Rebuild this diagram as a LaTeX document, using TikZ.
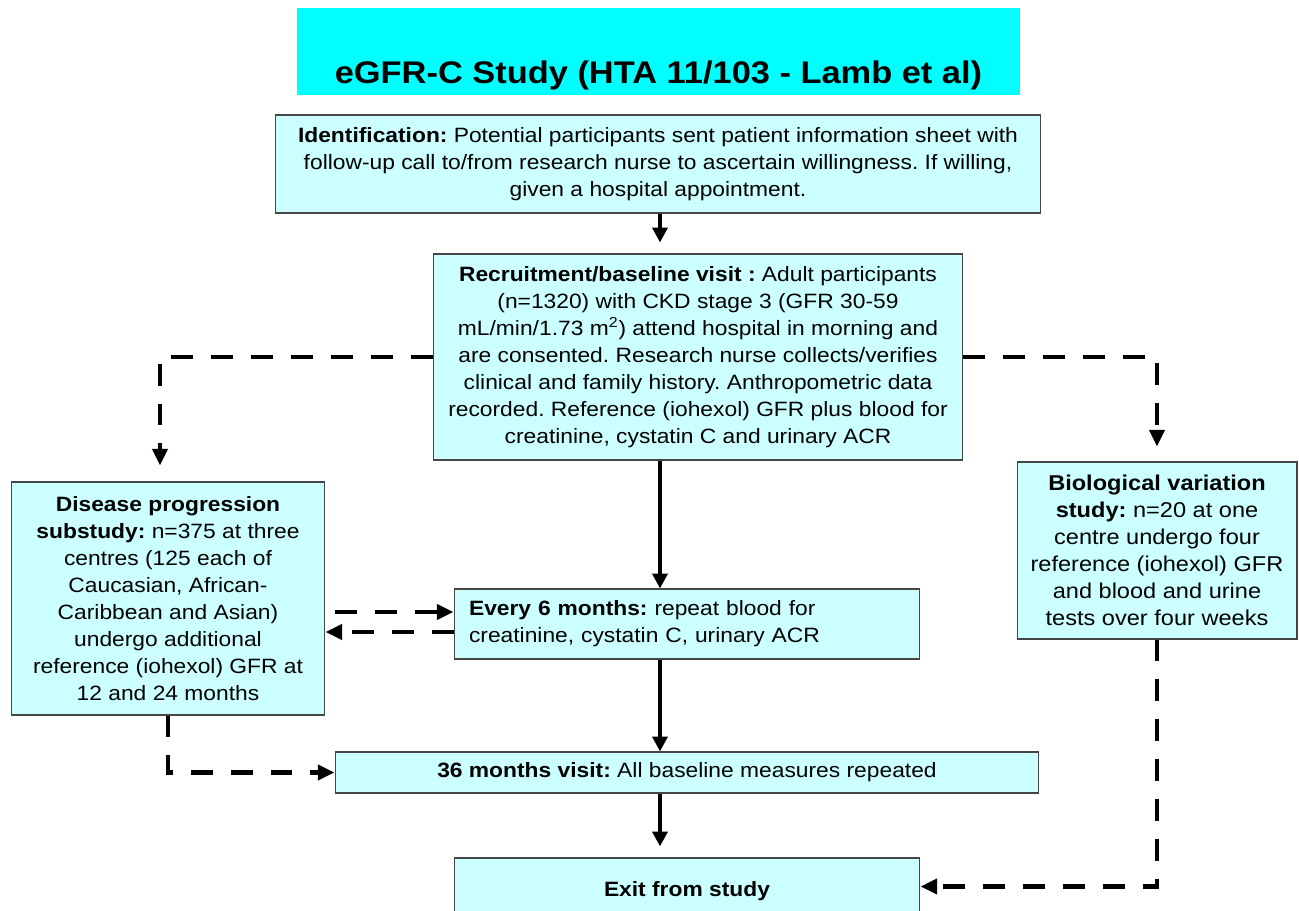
\documentclass[tikz,border=0pt]{standalone}
\usepackage{fontspec}
\setmainfont{Liberation Sans}[FakeStretch=1.1]
\usetikzlibrary{arrows.meta, calc}
\definecolor{titlecyan}{RGB}{0,255,255}
\definecolor{boxcyan}{RGB}{204,255,255}
\definecolor{boxedge}{RGB}{70,70,70}
\frenchspacing

\begin{document}
\begin{tikzpicture}[x=0.02cm, y=-0.02cm,
    stagebox/.style={draw=boxedge, line width=0.6pt, fill=boxcyan, inner sep=0pt, align=center, font=\fontsize{11.8}{15.35}\selectfont},
    titlebox/.style={fill=titlecyan, inner sep=0pt, minimum width=14.46cm, minimum height=1.74cm},
    titletext/.style={inner sep=0pt, font=\fontsize{17.8}{20}\selectfont\bfseries},
    flowline/.style={line width=2.3pt, -{Triangle[width=8.5pt,length=8.5pt]}},
    sideline/.style={line width=2.3pt, dash pattern=on 12.5pt off 10.2pt, -{Triangle[width=8.5pt,length=9.5pt]}}]
    \useasboundingbox (0,0) rectangle (1299,911);

    % Title banner
    \node[titlebox] (title) at (658.5,51.5) {};
    \node[titletext] (titletxt) at (658.5,75) {eGFR-C Study (HTA 11/103 - Lamb et al)};

    % Main stages
    \node[stagebox, minimum width=15.32cm, minimum height=1.96cm] (ident) at (658,164)
        {\textbf{Identification:} Potential participants sent patient information sheet with\\
         follow-up call to/from research nurse to ascertain willingness. If willing,\\
         given a hospital appointment.};
    \node[stagebox, minimum width=10.6cm, minimum height=4.12cm] (recruit) at (698,357)
        {\textbf{Recruitment/baseline visit :} Adult participants\\
         (n=1320) with CKD stage 3 (GFR 30-59\\
         mL/min/1.73 m\textsuperscript{2}) attend hospital in morning and\\
         are consented. Research nurse collects/verifies\\
         clinical and family history. Anthropometric data\\
         recorded. Reference (iohexol) GFR plus blood for\\
         creatinine, cystatin C and urinary ACR};
    \node[stagebox, minimum width=9.32cm, minimum height=1.4cm, inner xsep=0.3cm, text width=8.72cm, align=left] (every6) at (687,624)
        {\textbf{Every 6 months:} repeat blood for\\
         creatinine, cystatin C, urinary ACR};
    \node[stagebox, minimum width=14.08cm, minimum height=0.82cm] (box36) at (687,772.5)
        {\textbf{36 months visit:} All baseline measures repeated};
    \node[stagebox, minimum width=9.32cm, minimum height=1.34cm] (exit) at (687,891.5)
        {\textbf{Exit from study}};

    % Substudies
    \node[stagebox, minimum width=6.28cm, minimum height=4.66cm] (disease) at (168,598.5)
        {\textbf{Disease progression}\\
         \textbf{substudy:} n=375 at three\\
         centres (125 each of\\
         Caucasian, African-\\
         Caribbean and Asian)\\
         undergo additional\\
         reference (iohexol) GFR at\\
         12 and 24 months};
    \node[stagebox, minimum width=5.6cm, minimum height=3.54cm, font=\fontsize{12.2}{15.35}\selectfont] (bio) at (1157,550.5)
        {\textbf{Biological variation}\\
         \textbf{study:} n=20 at one\\
         centre undergo four\\
         reference (iohexol) GFR\\
         and blood and urine\\
         tests over four weeks};

    % Solid arrows down the main path
    \coordinate (spine) at (660,0);
    \draw[flowline, shorten >=0.22cm] (ident.south -| spine) -- (recruit.north -| spine);
    \draw[flowline] (recruit.south -| spine) -- (every6.north -| spine);
    \draw[flowline] (every6.south -| spine) -- (box36.north -| spine);
    \draw[flowline, shorten >=0.22cm] (box36.south -| spine) -- (exit.north -| spine);

    % Dashed arrows to and from the substudies
    \draw[sideline, shorten >=0.32cm] (recruit.west) -| ($(disease.north)+(-8,0)$);
    \draw[sideline, shorten >=0.3cm] (recruit.east) -| (bio.north);
    \draw[sideline] ($(disease.east |- every6.west)+(10,-12)$) -- ($(every6.west)+(0,-12)$);
    \draw[sideline] ($(every6.west)+(0,8)$) -- ($(disease.east |- every6.west)+(0,8)$);
    \draw[sideline] (disease.south) |- (box36.west);
    \draw[sideline] (bio.south) |- ($(exit.east)+(0,-5)$);
\end{tikzpicture}
\end{document}
